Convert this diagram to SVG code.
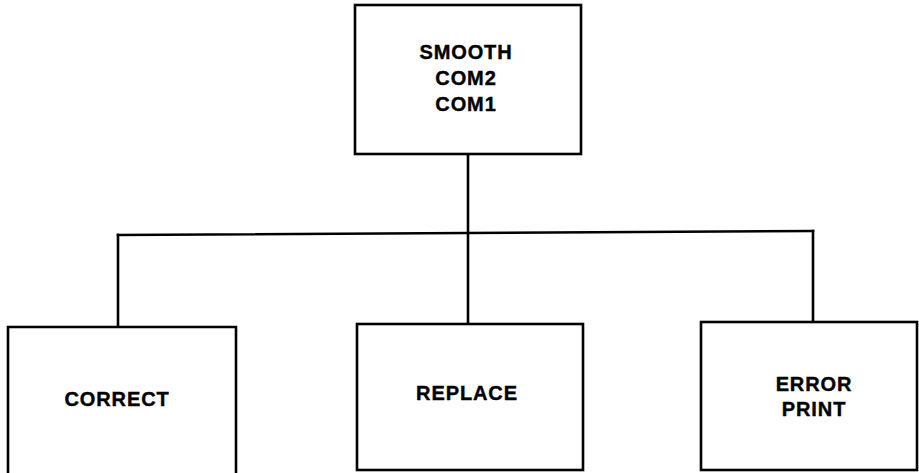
<svg xmlns="http://www.w3.org/2000/svg" width="919" height="473" viewBox="0 0 919 473">
<style>
.box{fill:#fff;stroke:#000;stroke-width:2.6}
.edge{fill:none;stroke:#000;stroke-width:2.6;stroke-linecap:square}
.lbl{font-family:"Liberation Sans",Arial,sans-serif;font-weight:bold;font-size:20px;letter-spacing:0.9px;text-anchor:middle;fill:#000;stroke:#000;stroke-width:0.4}
</style>
<rect width="919" height="473" fill="#fff"/>
<g id="connectors">
<path class="edge" d="M468 154 L468 324"/>
<path class="edge" d="M118 235 L813 231"/>
<path class="edge" d="M118 235 L118 327"/>
<path class="edge" d="M813 231 L813 322"/>
</g>
<g id="smooth">
<rect class="box" x="355" y="5" width="226" height="149"/>
<text class="lbl" x="466" y="59">SMOOTH</text>
<text class="lbl" x="466" y="85">COM2</text>
<text class="lbl" x="466" y="111">COM1</text>
</g>
<g id="correct">
<path class="box" d="M8 480 L8 327 L236 327 L236 480"/>
<text class="lbl" x="117" y="406">CORRECT</text>
</g>
<g id="replace">
<rect class="box" x="357" y="324" width="226" height="146"/>
<text class="lbl" x="467" y="400">REPLACE</text>
</g>
<g id="errorprint">
<rect class="box" x="701" y="322" width="216" height="148"/>
<text class="lbl" x="814" y="391">ERROR</text>
<text class="lbl" x="814" y="416">PRINT</text>
</g>
</svg>
